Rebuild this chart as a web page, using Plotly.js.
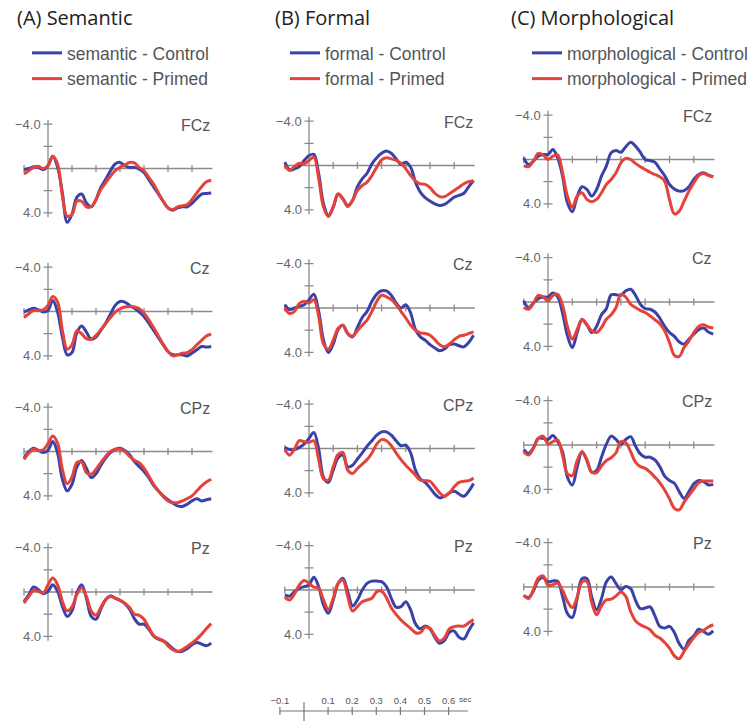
<!DOCTYPE html>
<html><head><meta charset="utf-8">
<script src="https://cdn.plot.ly/plotly-3.0.1.min.js"></script>
<style>html,body{margin:0;padding:0;background:#fff}#chart{width:753px;height:721px}</style>
</head><body><div id="chart"></div>
<script>
// ---- data ----
const timeSec = [-0.10,-0.08,-0.06,-0.04,-0.02,0.00,0.02,0.04,0.06,0.08,0.10,0.12,0.14,0.16,0.18,0.20,0.22,0.24,0.26,0.28,0.30,0.32,0.34,0.36,0.38,0.40,0.42,0.44,0.46,0.48,0.50,0.52,0.54,0.56,0.58,0.60,0.62,0.64,0.66,0.68];
const conditions = ['semantic','formal','morphological'];
const panelTitles = ['(A) Semantic','(B) Formal','(C) Morphological'];
const channels = ['FCz','Cz','CPz','Pz'];

const semFCzControl = [0.1,0.0,-0.15,-0.1,0.1,-0.25,-1.1,-0.1,2.2,4.85, 4.1,2.6,2.3,3.1,3.45,2.8,1.7,1.0,0.2,-0.4, -0.55,-0.25,-0.1,-0.1,0.05,0.35,1.0,1.65,2.3,2.95, 3.55,3.75,3.55,3.45,3.45,3.15,2.7,2.3,2.25,2.2];
const semFCzPrimed  = [0.5,0.2,-0.1,-0.2,0.0,-0.25,-1.1,-0.4,2.5,4.3, 4.15,2.95,2.95,3.45,3.45,2.8,1.9,1.3,0.7,0.2, -0.1,-0.3,-0.55,-0.5,-0.1,0.2,0.8,1.4,2.2,2.95, 3.55,3.7,3.45,3.35,3.25,2.8,2.2,1.65,1.2,1.05];
const semCzControl  = [0.05,-0.15,-0.3,-0.15,0.05,-0.1,-1.0,0.05,2.3,3.9, 3.7,1.9,1.3,1.85,2.5,2.3,1.7,1.05,0.25,-0.55, -0.9,-0.85,-0.55,-0.3,0.05,0.45,1.05,1.7,2.35,3.0, 3.6,3.9,3.9,3.9,4.0,3.75,3.45,3.15,3.2,3.15];
const semCzPrimed   = [0.55,0.2,-0.1,-0.1,-0.15,-0.55,-1.35,-0.85,1.7,3.4, 3.0,1.75,2.0,2.45,2.5,2.15,1.65,1.1,0.55,0.05, -0.25,-0.4,-0.45,-0.4,-0.25,0.15,0.75,1.45,2.2,2.95, 3.6,4.0,3.9,3.75,3.7,3.45,3.0,2.6,2.2,2.05];
const semCPzControl = [0.6,0.0,-0.3,-0.1,0.1,-0.1,-0.9,0.15,2.5,3.55, 2.95,1.4,0.8,1.5,2.35,2.0,1.25,0.6,0.1,-0.2, -0.3,-0.1,0.3,0.9,1.35,1.8,2.35,3.05,3.55,4.0, 4.35,4.65,4.9,4.95,4.75,4.45,4.25,4.45,4.35,4.25];
const semCPzPrimed  = [0.7,0.15,-0.2,-0.1,-0.15,-0.7,-1.4,-0.75,1.6,2.9, 2.3,1.0,0.95,1.9,2.05,1.6,1.0,0.45,0.0,-0.2, -0.2,0.0,0.45,0.8,1.0,1.5,2.2,2.95,3.55,4.05, 4.45,4.6,4.6,4.45,4.25,4.0,3.55,3.1,2.75,2.5];
const semPzControl  = [0.85,0.25,-0.45,-0.2,0.15,-0.05,-0.65,-0.05,1.3,2.2, 1.7,0.1,-0.65,0.55,2.2,2.45,1.55,0.7,0.35,0.55, 0.75,1.05,1.55,2.4,2.9,2.9,3.35,3.95,4.25,4.4, 4.7,5.1,5.35,5.35,5.1,4.75,4.55,4.7,4.85,4.6];
const semPzPrimed   = [1.0,0.4,-0.15,-0.05,0.1,-0.65,-1.25,-0.65,0.85,1.7, 1.35,0.25,-0.35,0.4,1.7,2.1,1.4,0.7,0.4,0.55, 0.75,1.0,1.4,2.0,2.1,2.45,3.2,3.95,4.2,4.4, 4.85,5.2,5.35,5.2,4.9,4.6,4.25,3.8,3.3,2.85];

const forFCzControl = [-0.3,0.4,0.3,0.1,-0.45,-0.9,-1.0,0.75,3.45,4.5, 3.75,2.6,3.0,3.6,3.15,1.9,1.2,0.7,-0.15,-0.7, -1.1,-1.3,-1.1,-0.6,-0.1,-0.3,0.15,1.5,2.4,2.9, 3.2,3.45,3.6,3.5,3.2,2.85,2.7,2.5,1.9,1.35];
const forFCzPrimed  = [0.0,0.45,0.1,-0.2,-0.15,-0.45,-0.75,1.2,3.75,4.6, 3.75,2.55,3.0,3.7,3.15,2.25,1.8,1.5,0.9,0.15, -0.5,-0.7,-0.6,-0.45,-0.2,0.3,0.9,1.4,1.65,1.7, 2.0,2.5,2.8,2.8,2.55,2.25,1.95,1.65,1.45,1.4];
const forCzControl  = [-0.3,0.15,0.0,-0.15,-0.3,-0.75,-1.25,0.3,2.9,4.0, 3.25,1.95,1.55,2.3,2.6,1.75,0.85,0.3,-0.6,-1.25, -1.55,-1.55,-1.15,-0.45,0.0,-0.3,0.45,1.95,2.6,2.9, 3.3,3.6,3.85,3.7,3.3,3.25,3.4,3.5,3.1,2.45];
const forCzPrimed   = [0.0,0.5,0.3,-0.4,-0.6,-0.45,-0.75,0.75,3.25,3.7, 2.9,1.85,1.55,2.3,2.55,2.05,1.55,1.1,0.3,-0.6, -1.15,-1.0,-0.75,-0.3,0.3,0.9,1.55,2.0,2.25,2.3, 2.45,2.85,3.3,3.5,3.25,2.85,2.55,2.45,2.3,2.15];
const forCPzControl = [-0.1,0.1,0.1,-0.1,-0.4,-0.9,-1.45,0.05,2.6,3.05, 1.95,0.85,0.6,1.65,1.5,0.95,0.4,-0.2,-0.7,-1.2, -1.5,-1.5,-1.2,-0.7,-0.25,-0.3,0.4,1.95,2.75,3.05, 3.55,4.1,4.45,4.3,4.0,3.85,4.1,4.3,3.85,3.15];
const forCPzPrimed  = [0.1,0.6,0.05,-0.7,-0.6,-0.55,-0.7,1.0,2.75,2.85, 1.65,0.55,0.35,1.95,2.25,1.8,1.4,1.0,0.4,-0.4, -0.8,-0.7,-0.25,0.4,1.0,1.5,1.95,2.4,2.85,2.9, 2.95,3.45,4.0,4.3,4.0,3.45,3.05,2.95,2.9,2.65];
const forPzControl  = [0.45,0.55,0.15,-0.15,-0.3,-0.45,-1.15,-0.3,1.35,2.1, 0.9,-0.55,-1.05,0.15,1.45,0.9,0.0,-0.6,-0.8,-0.8, -0.75,-0.3,0.75,1.55,1.5,1.05,1.8,3.05,3.5,3.25, 3.5,4.25,4.8,4.55,3.8,3.7,4.25,4.4,3.65,2.95];
const forPzPrimed   = [0.65,0.9,0.35,-0.45,-0.85,-0.6,-0.25,-0.15,0.9,1.75, 0.75,-0.6,-0.9,0.6,1.9,1.5,1.05,0.9,0.75,0.15, 0.1,0.7,1.6,2.2,2.7,3.1,3.45,3.85,3.85,3.35, 3.45,4.1,4.6,4.3,3.5,3.3,3.25,3.25,2.95,2.65];

const morFCzControl = [-0.15,0.45,0.15,-0.3,-0.45,-0.45,-0.9,-0.15,1.5,3.9, 4.7,3.35,2.45,2.7,3.3,2.7,1.5,0.6,-0.6,-0.8, -0.65,-1.15,-1.55,-1.2,-0.65,0.0,0.1,0.25,0.85,1.45, 2.25,2.65,2.85,2.8,2.45,1.8,1.35,1.2,1.4,1.55];
const morFCzPrimed  = [0.55,0.65,0.15,-0.55,-0.4,0.0,-0.3,-0.4,1.2,3.3, 4.3,3.3,3.0,3.6,3.8,3.6,3.0,2.25,1.8,1.2, 0.3,-0.1,0.0,0.35,0.65,0.9,1.15,1.35,1.55,1.95, 3.6,4.9,4.65,3.75,2.85,2.1,1.45,1.25,1.45,1.55];
const morCzControl  = [-0.1,0.5,0.1,-0.3,-0.45,-0.45,-0.8,-0.45,1.0,3.05, 4.1,2.75,1.6,2.05,2.75,2.2,1.15,0.6,-0.65,-0.65, -0.6,-1.0,-1.15,-0.6,0.2,0.6,0.65,0.9,1.45,2.2, 2.75,3.1,3.6,3.8,3.35,2.9,2.5,2.35,2.7,2.9];
const morCzPrimed   = [0.5,0.65,0.1,-0.6,-0.45,-0.1,-0.6,-0.7,0.3,2.2, 3.35,2.5,1.55,2.05,2.6,2.75,2.3,1.55,1.15,0.5, -0.7,-0.45,0.2,0.5,0.75,0.95,1.25,1.6,1.95,2.6, 3.65,4.8,4.9,4.1,3.5,2.75,2.2,2.05,2.25,2.35];
const morCPzControl = [0.4,0.75,0.25,-0.6,-0.6,-0.5,-0.85,-0.3,0.6,2.9, 3.6,2.0,0.6,1.4,2.45,2.3,1.1,-0.05,-0.8,-0.5, -0.05,-0.5,-0.75,0.1,0.8,1.1,1.1,1.35,1.95,2.8, 3.2,3.45,4.2,4.8,4.2,3.5,3.2,3.3,3.6,3.55];
const morCPzPrimed  = [0.6,0.9,0.3,-0.6,-0.8,-0.1,-0.3,-0.45,0.95,2.6, 2.75,1.4,0.6,1.3,2.45,2.5,1.9,1.4,1.15,0.7, -0.3,-0.2,0.6,1.55,1.95,2.1,2.45,2.9,3.4,4.05, 4.85,5.7,5.85,5.15,4.55,3.95,3.4,3.25,3.25,3.25];
const morPzControl  = [0.75,0.95,0.35,-0.6,-0.85,-0.45,-0.55,-0.5,0.85,2.4, 2.75,1.05,-0.75,-0.75,0.9,2.05,1.05,-0.45,-0.9,-0.3, 0.25,-0.05,0.15,1.2,1.95,1.9,1.8,2.6,3.55,3.7, 3.55,4.1,5.1,5.6,4.8,4.4,3.8,4.0,4.25,3.95];
const morPzPrimed   = [0.75,1.05,0.25,-0.8,-1.0,-0.15,-0.2,-0.35,0.3,1.3, 1.85,0.9,-0.45,-0.5,1.4,2.5,1.7,1.15,1.1,0.8, 0.45,0.85,2.2,3.05,3.4,3.6,3.85,4.35,4.6,5.0, 5.5,6.2,6.45,5.8,5.15,4.55,4.1,3.9,3.6,3.4];

const controlData = [
  [semFCzControl, semCzControl, semCPzControl, semPzControl],
  [forFCzControl, forCzControl, forCPzControl, forPzControl],
  [morFCzControl, morCzControl, morCPzControl, morPzControl]
];
const primedData = [
  [semFCzPrimed, semCzPrimed, semCPzPrimed, semPzPrimed],
  [forFCzPrimed, forCzPrimed, forCPzPrimed, forPzPrimed],
  [morFCzPrimed, morCzPrimed, morCPzPrimed, morPzPrimed]
];

const xTickVals = [-0.1, 0.1, 0.2, 0.3, 0.4, 0.5, 0.6];
const yTickVals = [-4, -2, 2, 4];
const yLabelVals = [-4, 4];
const yLabelText = ['\u22124.0', '4.0'];
const scaleTickVals = [-0.1, 0.1, 0.2, 0.3, 0.4, 0.5, 0.6];
const scaleTickText = ['\u22120.1', '0.1', '0.2', '0.3', '0.4', '0.5', '0.6'];

// ---- layout geometry (pixels) ----
const W = 753, H = 721;
const colZero = [48, 309, 548];
const colPPS = [240, 242, 243];
const rowZero = [[168.5, 311.5, 451.5, 592], [165.5, 308, 448.5, 590], [159.5, 302, 445, 587]];
const K = 11.1;
const XR = [-0.13, 0.72];
const YTOP = -5.5, YBOT = 8;
const BLUE = '#3a42a8', RED = '#e5423a', AXC = '#8a8a8a';
const TXT = 'Liberation Sans, Arial, sans-serif';

const traces = [];
const shapes = [];
const annotations = [];
const layout = {
  width: W, height: H, margin: {l: 0, r: 0, t: 0, b: 0},
  paper_bgcolor: '#fff', plot_bgcolor: 'rgba(0,0,0,0)',
  showlegend: true, hovermode: false
};

for (let c = 0; c < 3; c++) {
  const legendId = c === 0 ? 'legend' : 'legend' + (c + 1);
  for (let r = 0; r < 4; r++) {
    const n = c * 4 + r + 1;
    const xa = 'x' + (n === 1 ? '' : n), ya = 'y' + (n === 1 ? '' : n);
    const xName = 'xaxis' + (n === 1 ? '' : n), yName = 'yaxis' + (n === 1 ? '' : n);
    const z = rowZero[c][r];
    layout[xName] = {
      domain: [(colZero[c] + XR[0] * colPPS[c]) / W, (colZero[c] + XR[1] * colPPS[c]) / W],
      range: XR, visible: false, anchor: ya, fixedrange: true
    };
    layout[yName] = {
      domain: [1 - (z + YBOT * K) / H, 1 - (z + YTOP * K) / H],
      range: [YBOT, YTOP], visible: false, anchor: xa, fixedrange: true
    };
    traces.push({
      x: timeSec, y: controlData[c][r], xaxis: xa, yaxis: ya, type: 'scatter', mode: 'lines',
      name: conditions[c] + ' - Control', legend: legendId, showlegend: r === 0,
      line: {color: BLUE, width: 3, shape: 'spline', smoothing: 1}, hoverinfo: 'skip'
    });
    traces.push({
      x: timeSec, y: primedData[c][r], xaxis: xa, yaxis: ya, type: 'scatter', mode: 'lines',
      name: conditions[c] + ' - Primed', legend: legendId, showlegend: r === 0,
      line: {color: RED, width: 3, shape: 'spline', smoothing: 1}, hoverinfo: 'skip'
    });
    // axes lines
    shapes.push({type: 'line', xref: xa, yref: ya, x0: 0, x1: 0, y0: -4.4, y1: 4.4, line: {color: AXC, width: 1.3}, layer: 'below'});
    shapes.push({type: 'line', xref: xa, yref: ya, x0: -0.1, x1: 0.685, y0: 0, y1: 0, line: {color: AXC, width: 1.3}, layer: 'below'});
    xTickVals.forEach(v => shapes.push({type: 'line', xref: xa, yref: ya, x0: v, x1: v, ysizemode: 'pixel', yanchor: 0, y0: -3.5, y1: 3.5, line: {color: AXC, width: 1.3}, layer: 'below'}));
    yTickVals.forEach(v => shapes.push({type: 'line', xref: xa, yref: ya, y0: v, y1: v, xsizemode: 'pixel', xanchor: 0, x0: -4.5, x1: 4.5, line: {color: AXC, width: 1.3}, layer: 'below'}));
    yLabelVals.forEach((v, i) => annotations.push({xref: xa, yref: ya, x: 0, y: v, xanchor: 'right', yanchor: 'middle', xshift: -5, text: yLabelText[i], showarrow: false, font: {family: TXT, size: 13, color: '#666'}}));
    annotations.push({xref: xa, yref: ya, x: 0.685, y: -3.9, xanchor: 'right', yanchor: 'middle', text: channels[r], showarrow: false, font: {family: TXT, size: 16, color: '#555'}});
  }
  annotations.push({xref: 'paper', yref: 'paper', x: [15, 273, 509][c] / W, y: 1 - 18 / H, xanchor: 'left', yanchor: 'middle', text: panelTitles[c], showarrow: false, font: {family: 'Open Sans, sans-serif', size: 20, color: '#222'}});
  layout[legendId] = {
    x: [27, 285, 527][c] / W, y: 1 - 35 / H, xanchor: 'left', yanchor: 'top',
    bgcolor: 'rgba(0,0,0,0)', borderwidth: 0, traceorder: 'normal',
    font: {family: TXT, size: 17.5, color: '#555'}, itemwidth: 30
  };
}

// bottom time scale bar
const sbZero = 304, sbPPS = 241, sbY = 711;
layout.xaxis13 = {
  domain: [(sbZero + XR[0] * sbPPS) / W, (sbZero + XR[1] * sbPPS) / W], range: XR, anchor: 'y13', side: 'top',
  showline: false, showgrid: false, zeroline: false, tickmode: 'array', tickvals: scaleTickVals, ticktext: scaleTickText,
  ticks: 'outside', ticklen: 2, tickcolor: 'rgba(0,0,0,0)', tickfont: {family: TXT, size: 9.5, color: '#555'}, fixedrange: true
};
layout.yaxis13 = {domain: [0, 1 - sbY / H], range: [0, 1], visible: false, anchor: 'x13', fixedrange: true};
traces.push({x: [null], y: [null], xaxis: 'x13', yaxis: 'y13', type: 'scatter', mode: 'lines', showlegend: false, hoverinfo: 'skip'});
shapes.push({type: 'line', xref: 'x13', yref: 'paper', x0: -0.1, x1: 0.68, y0: 1 - sbY / H, y1: 1 - sbY / H, line: {color: '#777', width: 1.2}});
scaleTickVals.forEach(v => shapes.push({type: 'line', xref: 'x13', yref: 'paper', x0: v, x1: v, y0: 1 - (sbY - 4) / H, y1: 1 - (sbY + 4) / H, line: {color: '#777', width: 1.2}}));
shapes.push({type: 'line', xref: 'x13', yref: 'paper', x0: 0, x1: 0, y0: 1 - 702 / H, y1: 0, line: {color: '#777', width: 1.2}});
annotations.push({xref: 'x13', yref: 'paper', x: 0.6, y: 1 - 699 / H, xanchor: 'left', yanchor: 'middle', xshift: 8, text: 'sec', showarrow: false, font: {family: TXT, size: 8, color: '#555'}});

layout.shapes = shapes;
layout.annotations = annotations;

Plotly.newPlot('chart', traces, layout, {staticPlot: true, displayModeBar: false});
</script>
</body></html>
